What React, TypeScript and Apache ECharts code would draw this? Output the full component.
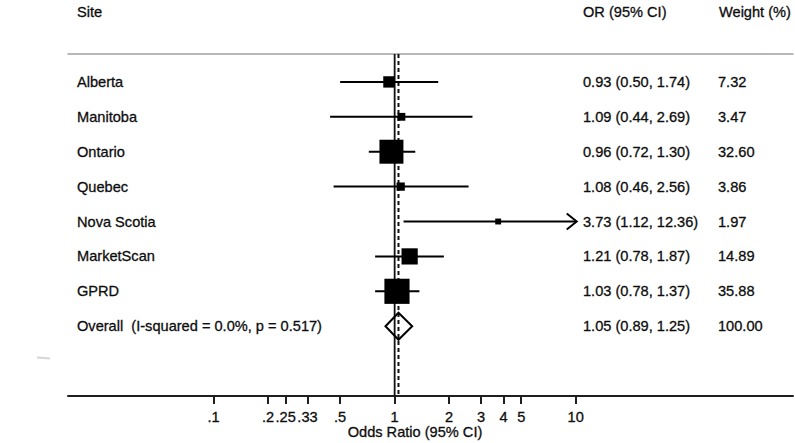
import React, { useEffect, useRef } from "react";
import * as echarts from "echarts";

// ---- data ----
const sites = ["Alberta", "Manitoba", "Ontario", "Quebec", "Nova Scotia", "MarketScan", "GPRD"];
const oddsRatios = [0.93, 1.09, 0.96, 1.08, 3.73, 1.21, 1.03];
const ciLower = [0.5, 0.44, 0.72, 0.46, 1.12, 0.78, 0.78];
const ciUpper = [1.74, 2.69, 1.3, 2.56, 12.36, 1.87, 1.37];
const weights = [7.32, 3.47, 32.6, 3.86, 1.97, 14.89, 35.88];

const overallLabel = "Overall  (I-squared = 0.0%, p = 0.517)";
const overallOR = 1.05;
const overallLower = 0.89;
const overallUpper = 1.25;
const overallWeight = 100.0;

const tickValues = [0.1, 0.2, 0.25, 0.33, 0.5, 1, 2, 3, 4, 5, 10];
const tickLabels = [".1", ".2", ".25", ".33", ".5", "1", "2", "3", "4", "5", "10"];
const headers = ["Site", "OR (95% CI)", "Weight (%)"];
const axisTitle = "Odds Ratio (95% CI)";
const nullValue = 1;
const clipMax = 10;

// ---- helpers ----
const FONT = "'Liberation Sans', Arial, Helvetica, sans-serif";
const FS = 14.6;
const TXT = "#0d0d0d";
const lg = (v: number) => Math.log10(v);
const tickLogs = tickValues.map(lg);
const f2 = (v: number) => v.toFixed(2);

const X_MIN = -1.804;
const X_MAX = 2.2;
const NAME_X = 77;
const OR_X = 583;
const W_X = 718;

function textEl(text: string, x: number, y: number, align = "left") {
  return {
    type: "text",
    style: {
      text,
      x,
      y,
      fill: TXT,
      fontSize: FS,
      fontFamily: FONT,
      align,
      verticalAlign: "middle",
      stroke: TXT,
      lineWidth: 0.3,
    },
  };
}

function buildOption() {
  const rowData = sites.map((_, i) => [lg(oddsRatios[i]), i]);
  rowData.push([lg(overallOR), sites.length]);

  const rowsRender = (params: any, api: any) => {
    const i = params.dataIndex;
    const children: any[] = [];
    if (i < sites.length) {
      const [cx, cy] = api.coord([lg(oddsRatios[i]), i]);
      const xl = api.coord([lg(ciLower[i]), i])[0];
      const clipped = ciUpper[i] > clipMax;
      const xh = api.coord([lg(Math.min(ciUpper[i], clipMax)), i])[0];
      children.push(textEl(sites[i], NAME_X, cy));
      children.push({
        type: "line",
        shape: { x1: xl, y1: cy, x2: xh, y2: cy },
        style: { stroke: "#000", lineWidth: 2 },
      });
      if (clipped) {
        children.push({
          type: "polyline",
          shape: { points: [[xh - 9, cy - 8], [xh + 1, cy], [xh - 9, cy + 8]] },
          style: { stroke: "#000", lineWidth: 2, fill: "none" },
        });
      }
      const s = 4.2 * Math.sqrt(weights[i]);
      children.push({
        type: "rect",
        shape: { x: cx - s / 2, y: cy - s / 2, width: s, height: s },
        style: { fill: "#000" },
      });
      children.push(
        textEl(`${f2(oddsRatios[i])} (${f2(ciLower[i])}, ${f2(ciUpper[i])})`, OR_X, cy)
      );
      children.push(textEl(f2(weights[i]), W_X, cy));
    } else {
      const [cx, cy] = api.coord([lg(overallOR), i]);
      const xl = api.coord([lg(overallLower), i])[0];
      const xh = api.coord([lg(overallUpper), i])[0];
      const h = 13.5;
      children.push(textEl(overallLabel, NAME_X, cy));
      children.push({
        type: "polygon",
        shape: { points: [[xl, cy], [cx, cy - h], [xh, cy], [cx, cy + h]] },
        style: { fill: "none", stroke: "#000", lineWidth: 2 },
      });
      children.push(
        textEl(`${f2(overallOR)} (${f2(overallLower)}, ${f2(overallUpper)})`, OR_X, cy)
      );
      children.push(textEl(f2(overallWeight), W_X, cy));
    }
    return { type: "group", children };
  };

  const refRender = (params: any, api: any) => {
    const cs = params.coordSys;
    const x = api.coord([api.value(0), 0])[0];
    const dashed = params.dataIndex === 1;
    return {
      type: "line",
      shape: { x1: x, y1: cs.y, x2: x, y2: cs.y + cs.height },
      style: {
        stroke: "#111",
        lineWidth: dashed ? 2 : 1.8,
        lineDash: dashed ? [4, 3] : null,
      },
    };
  };

  return {
    animation: false,
    backgroundColor: "#ffffff",
    grid: { left: 68, right: 2, top: 54, bottom: 47 },
    xAxis: [
      {
        type: "value",
        min: X_MIN,
        max: X_MAX,
        position: "bottom",
        splitLine: { show: false },
        axisLine: { show: true, onZero: false, lineStyle: { color: "#1e1e1e", width: 2 } },
        axisTick: {
          show: true,
          customValues: tickLogs,
          length: 8,
          lineStyle: { color: "#1e1e1e", width: 2 },
        },
        axisLabel: {
          show: true,
          customValues: tickLogs,
          margin: 13,
          fontSize: FS,
          fontFamily: FONT,
          color: TXT,
          textBorderColor: TXT,
          textBorderWidth: 0.3,
          formatter: (v: number) => {
            const k = tickLogs.findIndex((t) => Math.abs(t - v) < 1e-6);
            return k >= 0 ? tickLabels[k] : "";
          },
        },
      },
      {
        type: "value",
        min: X_MIN,
        max: X_MAX,
        position: "top",
        splitLine: { show: false },
        axisLine: { show: true, onZero: false, lineStyle: { color: "#a0a0a0", width: 1.5 } },
        axisTick: { show: false },
        axisLabel: { show: false },
      },
    ],
    yAxis: { type: "value", inverse: true, min: -0.8, max: 9, show: false },
    graphic: [
      textEl(headers[0], NAME_X, 12),
      textEl(headers[1], OR_X, 12),
      textEl(headers[2], W_X + 1, 12),
      textEl(axisTitle, 415, 432, "center"),
      {
        type: "line",
        shape: { x1: 37, y1: 357.5, x2: 50, y2: 358.5 },
        style: { stroke: "#d6d6d6", lineWidth: 2 },
      },
    ],
    series: [
      {
        type: "custom",
        clip: false,
        silent: true,
        data: [[lg(nullValue), 0], [lg(overallOR), 0]],
        renderItem: refRender,
        z: 1,
      },
      {
        type: "custom",
        clip: false,
        silent: true,
        data: rowData,
        renderItem: rowsRender,
        z: 2,
      },
    ],
  };
}

export default function App() {
  const ref = useRef<HTMLDivElement>(null);
  useEffect(() => {
    if (!ref.current) return;
    const chart = echarts.init(ref.current, null, { renderer: "svg" });
    chart.setOption(buildOption() as any);
    return () => chart.dispose();
  }, []);
  return (
    <div
      ref={ref}
      style={{ position: "fixed", left: 0, top: 0, width: 795, height: 443, background: "#fff" }}
    />
  );
}
